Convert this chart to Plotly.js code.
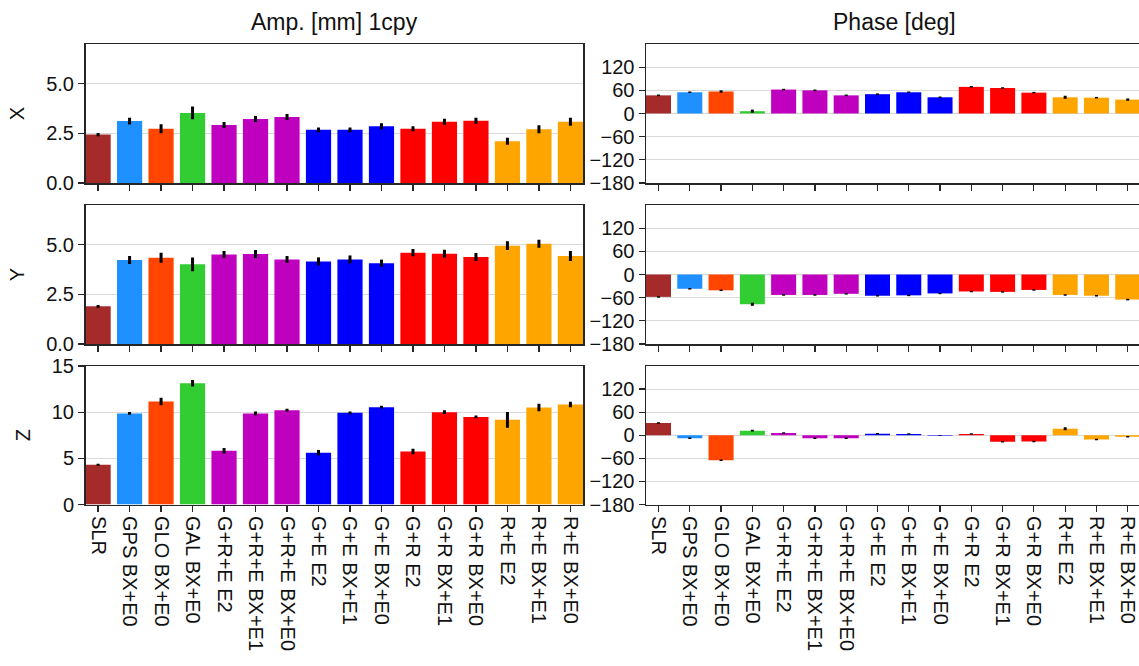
<!DOCTYPE html>
<html>
<head>
<meta charset="utf-8">
<script src="https://cdn.plot.ly/plotly-3.0.1.min.js"></script>
<style>html,body{margin:0;padding:0;background:#fff;}#chart{width:1139px;height:666px;}</style>
</head>
<body>
<div id="chart"></div>
<script>
const categories = ["SLR","GPS BX+E0","GLO BX+E0","GAL BX+E0","G+R+E E2","G+R+E BX+E1","G+R+E BX+E0","G+E E2","G+E BX+E1","G+E BX+E0","G+R E2","G+R BX+E1","G+R BX+E0","R+E E2","R+E BX+E1","R+E BX+E0"];
const barColors = ["#a52a2a","#1e90ff","#ff4500","#32cd32","#bf00bf","#bf00bf","#bf00bf","#0000ff","#0000ff","#0000ff","#ff0000","#ff0000","#ff0000","#ffa500","#ffa500","#ffa500"];

const ampX    = [2.44,3.12,2.73,3.53,2.92,3.22,3.32,2.68,2.68,2.86,2.73,3.08,3.14,2.10,2.71,3.08];
const ampXErr = [0.08,0.17,0.23,0.32,0.15,0.15,0.15,0.12,0.12,0.15,0.13,0.15,0.15,0.18,0.20,0.20];
const ampY    = [1.90,4.23,4.34,4.01,4.51,4.53,4.26,4.16,4.26,4.07,4.60,4.55,4.38,4.95,5.05,4.43];
const ampYErr = [0.07,0.20,0.25,0.35,0.17,0.20,0.17,0.20,0.20,0.18,0.18,0.20,0.20,0.22,0.20,0.25];
const ampZ    = [4.30,9.86,11.16,13.14,5.81,9.86,10.22,5.60,9.93,10.54,5.74,10.00,9.49,9.17,10.50,10.83];
const ampZErr = [0.10,0.15,0.40,0.35,0.30,0.20,0.15,0.30,0.15,0.15,0.30,0.20,0.15,0.85,0.40,0.30];

const phaseX    = [47,55,57,6,62,60,47,50,55,42,69,66,54,42,41,36];
const phaseXErr = [2,2,3,4,2,2,2,2,2,2,2,2,2,4,2,3];
const phaseY    = [-58,-37,-41,-77,-53,-53,-50,-55,-54,-49,-44,-45,-40,-53,-55,-65];
const phaseYErr = [2,2,2,4,2,2,2,2,2,2,2,2,2,2,2,2];
const phaseZ    = [32,-8,-65,12,6,-8,-8,4,3,-1,3,-17,-16,17,-11,-4];
const phaseZErr = [2,2,2,2,2,2,2,2,2,1,2,2,2,4,2,2];

const ampTicks = [0, 2.5, 5];
const ampTickText = ["0.0","2.5","5.0"];
const zTicks = [0, 5, 10, 15];
const phaseTicks = [-180,-120,-60,0,60,120];

const FONT = "Liberation Sans, Arial, sans-serif";
const FS = 20;
const lineCol = "#262626";

function barTrace(vals, errs, xa, ya) {
  return {
    type: "bar", x: categories, y: vals, xaxis: xa, yaxis: ya,
    width: 0.8,
    marker: {color: barColors, line: {width: 0}},
    error_y: {type: "data", array: errs, visible: true, color: "#000", thickness: 3, width: 0},
    showlegend: false, hoverinfo: "x+y"
  };
}

const data = [
  barTrace(ampX, ampXErr, "x", "y"),
  barTrace(phaseX, phaseXErr, "x2", "y2"),
  barTrace(ampY, ampYErr, "x3", "y3"),
  barTrace(phaseY, phaseYErr, "x4", "y4"),
  barTrace(ampZ, ampZErr, "x5", "y5"),
  barTrace(phaseZ, phaseZErr, "x6", "y6")
];

const W = 1139, H = 666;
const leftDom = [85.5/W, 583/W];
const rightDom = [646/W, 1];
const rows = [[1-183/H, 1-44/H], [1-344/H, 1-205/H], [1-504.5/H, 1-366/H]];

function xAxis(dom, yanchor, showLabels, isRight) {
  return {
    domain: dom, anchor: yanchor, type: "category",
    range: isRight ? [-0.4, 15.36] : [-0.4, 15.4],
    showline: true, linecolor: lineCol, linewidth: 1.5, mirror: true,
    ticks: "outside", ticklen: 6, tickwidth: 1.2, tickcolor: lineCol,
    showticklabels: showLabels, tickangle: 90,
    tickfont: {family: FONT, size: FS, color: "#111"},
    showgrid: false, zeroline: false, fixedrange: true, automargin: false
  };
}
function yAxis(dom, xanchor, range, tickvals, ticktext, isRight, title) {
  const ax = {
    domain: dom, anchor: xanchor, range: range,
    tickvals: tickvals,
    showline: true, linecolor: lineCol, linewidth: 1.5, mirror: !isRight,
    ticks: "outside", ticklen: 6, tickwidth: 1.2, tickcolor: lineCol,
    tickfont: {family: FONT, size: FS, color: "#111"},
    showgrid: true, gridcolor: "#d9d9d9", gridwidth: 1,
    zeroline: false, fixedrange: true, automargin: false
  };
  if (ticktext) ax.ticktext = ticktext;
  if (title) ax.title = {text: title, font: {family: FONT, size: FS, color: "#111"}, standoff: 16};
  return ax;
}

const layout = {
  width: W, height: H,
  margin: {l: 0, r: 0, t: 0, b: 0},
  paper_bgcolor: "#fff", plot_bgcolor: "#fff",
  bargap: 0.2,
  font: {family: FONT, size: FS, color: "#111"},
  xaxis:  xAxis(leftDom, "y", false, false),
  yaxis:  yAxis(rows[0], "x", [0, 7], ampTicks, ampTickText, false, "X"),
  xaxis2: xAxis(rightDom, "y2", false, true),
  yaxis2: yAxis(rows[0], "x2", [-180, 180], phaseTicks, null, true, null),
  xaxis3: xAxis(leftDom, "y3", false, false),
  yaxis3: yAxis(rows[1], "x3", [0, 7], ampTicks, ampTickText, false, "Y"),
  xaxis4: xAxis(rightDom, "y4", false, true),
  yaxis4: yAxis(rows[1], "x4", [-180, 180], phaseTicks, null, true, null),
  xaxis5: xAxis(leftDom, "y5", true, false),
  yaxis5: yAxis(rows[2], "x5", [0, 15], zTicks, null, false, "Z"),
  xaxis6: xAxis(rightDom, "y6", true, true),
  yaxis6: yAxis(rows[2], "x6", [-180, 180], phaseTicks, null, true, null),
  annotations: [
    {text: "Amp. [mm] 1cpy", xref: "paper", yref: "paper", x: (85.5+583)/2/W, y: 1-22/H,
     xanchor: "center", yanchor: "middle", showarrow: false, font: {family: FONT, size: 23, color: "#111"}},
    {text: "Phase [deg]", xref: "paper", yref: "paper", x: (646+1143)/2/W, y: 1-22/H,
     xanchor: "center", yanchor: "middle", showarrow: false, font: {family: FONT, size: 23, color: "#111"}}
  ]
};

Plotly.newPlot("chart", data, layout, {staticPlot: true, displayModeBar: false});
</script>
</body>
</html>
